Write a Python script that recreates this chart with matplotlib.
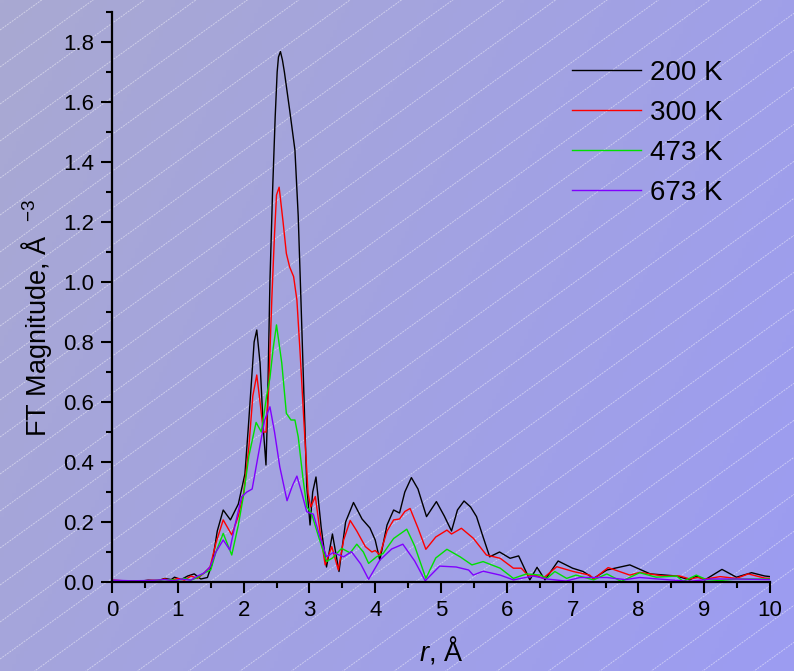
import numpy as np
import matplotlib
matplotlib.use('Agg')
import matplotlib.pyplot as plt
from matplotlib.ticker import MultipleLocator

plt.rcParams['font.family'] = ['Liberation Sans', 'DejaVu Sans']
plt.rcParams['mathtext.fontset'] = 'custom'
plt.rcParams['mathtext.rm'] = 'Liberation Sans'
plt.rcParams['mathtext.it'] = 'Liberation Sans:italic'

# FT magnitude, per temperature
labels = ['200 K', '300 K', '473 K', '673 K']
colors = ['black', '#ff0000', '#00e000', '#8000ff']

r_200 = [0.0, 0.2, 0.4, 0.55, 0.7, 0.8, 0.9, 0.95, 1.05, 1.15, 1.25, 1.35, 1.45,
         1.52, 1.6, 1.69, 1.80, 1.92, 2.02, 2.07, 2.12, 2.16, 2.20, 2.25, 2.30,
         2.34, 2.36, 2.40, 2.44, 2.48, 2.51, 2.53, 2.56, 2.59, 2.62, 2.70, 2.78,
         2.83, 2.87, 2.92, 2.96, 3.01, 3.05, 3.10, 3.18, 3.26, 3.35, 3.45, 3.55,
         3.67, 3.80, 3.92, 4.0, 4.07, 4.18, 4.28, 4.37, 4.45, 4.55, 4.65, 4.78,
         4.93, 5.05, 5.16, 5.25, 5.35, 5.45, 5.54, 5.64, 5.74, 5.89, 6.05, 6.18,
         6.35, 6.46, 6.58, 6.78, 7.0, 7.16, 7.32, 7.52, 7.87, 8.18, 8.58, 8.78,
         8.88, 9.01, 9.27, 9.49, 9.72, 9.92, 10.0]
v_200 = [0.005, 0.004, 0.002, 0.006, 0.004, 0.012, 0.008, 0.016, 0.008, 0.02,
         0.027, 0.01, 0.015, 0.06, 0.17, 0.24, 0.207, 0.26, 0.36, 0.51, 0.67,
         0.80, 0.84, 0.73, 0.51, 0.39, 0.54, 1.0, 1.3, 1.55, 1.70, 1.75,
         1.768, 1.74, 1.70, 1.573, 1.44, 1.22, 0.95, 0.6, 0.318, 0.19, 0.30, 0.35,
         0.18, 0.05, 0.16, 0.035, 0.2, 0.265, 0.21, 0.18, 0.14, 0.073, 0.19,
         0.24, 0.23, 0.30, 0.348, 0.31, 0.218, 0.268, 0.22, 0.17, 0.24, 0.27,
         0.25, 0.218, 0.15, 0.084, 0.10, 0.079, 0.087, 0.007, 0.049, 0.007,
         0.07, 0.046, 0.035, 0.012, 0.04, 0.057, 0.027, 0.02, 0.007, 0.02,
         0.007, 0.042, 0.016, 0.031, 0.02, 0.018]

r_300 = [0.0, 0.2, 0.4, 0.55, 0.7, 0.8, 0.9, 1.0, 1.1, 1.2, 1.3, 1.4, 1.49,
         1.58, 1.69, 1.82, 1.92, 2.0, 2.08, 2.14, 2.20, 2.25, 2.30, 2.34, 2.38,
         2.43, 2.47, 2.50, 2.54, 2.60, 2.65, 2.70, 2.76, 2.81, 2.86, 2.91, 2.98,
         3.02, 3.09, 3.16, 3.24, 3.34, 3.44, 3.52, 3.62, 3.72, 3.85, 3.95, 4.0,
         4.07, 4.18, 4.28, 4.37, 4.45, 4.53, 4.65, 4.77, 4.92, 5.09, 5.16, 5.31,
         5.49, 5.69, 5.90, 6.10, 6.22, 6.33, 6.45, 6.55, 6.76, 7.01, 7.26, 7.32,
         7.54, 7.87, 8.02, 8.38, 8.63, 8.78, 8.9, 9.03, 9.24, 9.49, 9.67, 9.92,
         10.0]
v_300 = [0.006, 0.004, 0.003, 0.005, 0.006, 0.01, 0.006, 0.012, 0.006, 0.02,
         0.012, 0.03, 0.05, 0.13, 0.207, 0.157, 0.22, 0.295, 0.45, 0.62, 0.69,
         0.6, 0.50, 0.50, 0.64, 0.95, 1.16, 1.29, 1.316, 1.2, 1.095, 1.05, 1.018,
         0.94, 0.76, 0.56, 0.295, 0.25, 0.285, 0.17, 0.057, 0.118, 0.04, 0.14,
         0.205, 0.17, 0.118, 0.10, 0.105, 0.09, 0.17, 0.207, 0.21, 0.235, 0.245,
         0.18, 0.109, 0.15, 0.173, 0.16, 0.179, 0.146, 0.09, 0.079, 0.046,
         0.046, 0.02, 0.022, 0.012, 0.051, 0.035, 0.023, 0.01, 0.048, 0.023,
         0.032, 0.02, 0.02, 0.01, 0.015, 0.01, 0.018, 0.012, 0.027, 0.013, 0.012]

r_473 = [0.0, 0.3, 0.6, 0.8, 1.0, 1.1, 1.2, 1.3, 1.4, 1.5, 1.58, 1.69, 1.82,
         1.92, 2.0, 2.08, 2.19, 2.27, 2.35, 2.40, 2.45, 2.50, 2.58, 2.65, 2.72,
         2.78, 2.83, 2.9, 2.96, 3.03, 3.14, 3.26, 3.35, 3.49, 3.62, 3.72, 3.82,
         3.90, 4.02, 4.12, 4.28, 4.48, 4.6, 4.77, 4.92, 5.09, 5.29, 5.47, 5.64,
         5.90, 6.10, 6.30, 6.51, 6.61, 6.73, 6.91, 7.05, 7.32, 7.52, 7.74, 8.02,
         8.27, 8.58, 8.68, 8.88, 9.03, 9.24, 9.49, 10.0]
v_473 = [0.004, 0.003, 0.004, 0.008, 0.006, 0.012, 0.006, 0.015, 0.03, 0.04,
         0.1, 0.162, 0.09, 0.19, 0.29, 0.42, 0.532, 0.50, 0.62, 0.68, 0.78,
         0.857, 0.73, 0.562, 0.54, 0.54, 0.484, 0.35, 0.25, 0.23, 0.151, 0.068,
         0.08, 0.112, 0.097, 0.126, 0.10, 0.062, 0.084, 0.095, 0.145, 0.176,
         0.12, 0.012, 0.08, 0.109, 0.084, 0.057, 0.068, 0.046, 0.012, 0.027,
         0.023, 0.012, 0.035, 0.012, 0.023, 0.007, 0.027, 0.002, 0.031, 0.016,
         0.02, 0.002, 0.023, 0.008, 0.005, 0.01, 0.01]

r_673 = [0.0, 0.3, 0.6, 0.8, 0.95, 1.05, 1.2, 1.3, 1.4, 1.49, 1.58, 1.69, 1.79,
         1.88, 1.97, 2.05, 2.13, 2.22, 2.32, 2.40, 2.47, 2.55, 2.66, 2.74, 2.81,
         2.88, 2.96, 3.06, 3.16, 3.26, 3.36, 3.52, 3.64, 3.78, 3.90, 4.07, 4.25,
         4.42, 4.6, 4.76, 4.98, 5.23, 5.42, 5.49, 5.64, 5.9, 6.10, 6.40, 6.61,
         6.9, 7.11, 7.52, 7.8, 8.02, 8.3, 8.78, 9.1, 9.49, 10.0]
v_673 = [0.006, 0.004, 0.005, 0.008, 0.004, 0.01, 0.006, 0.02, 0.03, 0.05, 0.1,
         0.14, 0.107, 0.2, 0.284, 0.30, 0.31, 0.42, 0.54, 0.584, 0.5, 0.384,
         0.271, 0.32, 0.353, 0.3, 0.234, 0.226, 0.15, 0.084, 0.098, 0.084,
         0.101, 0.06, 0.009, 0.073, 0.11, 0.126, 0.07, 0.004, 0.053, 0.05, 0.04,
         0.023, 0.036, 0.023, 0.007, 0.02, 0.01, 0.003, 0.015, 0.015, 0.008,
         0.015, 0.01, 0.002, 0.01, 0.01, 0.008]

series = [(r_200, v_200), (r_300, v_300), (r_473, v_473), (r_673, v_673)]

W, H = 794, 671
fig = plt.figure(figsize=(W / 100, H / 100), dpi=100)

# background: diagonal gradient with faint white hatch lines
bg = fig.add_axes([0, 0, 1, 1], zorder=-1)
gx, gy = np.meshgrid(np.linspace(0, 1, 200), np.linspace(0, 1, 200))
t = (0.7 * gx + 0.3 * gy)[..., None]
top_left = np.array([169, 169, 210]) / 255
bot_right = np.array([156, 156, 242]) / 255
bg.imshow(top_left + (bot_right - top_left) * t, extent=[0, W, 0, H],
          origin='upper', aspect='auto')
xs = np.array([0, W])
for c in np.arange(12 - 37 * 20, H + 37, 37):
    bg.plot(xs, 0.72 * xs + c, color='white', lw=0.7, alpha=0.45,
            ls=(0, (2, 1)))
bg.set_xlim(0, W)
bg.set_ylim(0, H)
bg.set_axis_off()

ax = fig.add_axes([112 / W, 1 - 582 / H, (770 - 112) / W, (582 - 12) / H])
ax.set_facecolor('none')

for (r, v), lab, col in zip(series, labels, colors):
    ax.plot(r, v, color=col, lw=1.0, label=lab)

ax.set_xlim(0, 10)
ax.set_ylim(0, 1.9)
ax.xaxis.set_major_locator(MultipleLocator(1))
ax.xaxis.set_minor_locator(MultipleLocator(0.5))
ax.yaxis.set_major_locator(MultipleLocator(0.2))
ax.yaxis.set_minor_locator(MultipleLocator(0.1))
ax.yaxis.set_major_formatter('{x:.1f}')

for side in ['top', 'right']:
    ax.spines[side].set_visible(False)
for side in ['left', 'bottom']:
    ax.spines[side].set_linewidth(1.6)

ax.tick_params(which='major', direction='out', length=8, width=1.5,
               labelsize=16, pad=5)
ax.tick_params(which='minor', direction='out', length=4.5, width=1.5)

ax.set_xlabel('$r$, Å', fontsize=19.5, labelpad=10)
ax.set_ylabel('FT Magnitude, Å  $^{-3}$', fontsize=19.5)
ax.yaxis.set_label_coords(-0.088, 0.463)

ax.legend(loc='upper left', bbox_to_anchor=(572 / W, 1 - 60 / H),
          bbox_transform=fig.transFigure, frameon=False, fontsize=20,
          handlelength=2.5, handletextpad=0.3, labelspacing=0.5,
          borderpad=0, borderaxespad=0)

fig.savefig('out.png', dpi=100)
